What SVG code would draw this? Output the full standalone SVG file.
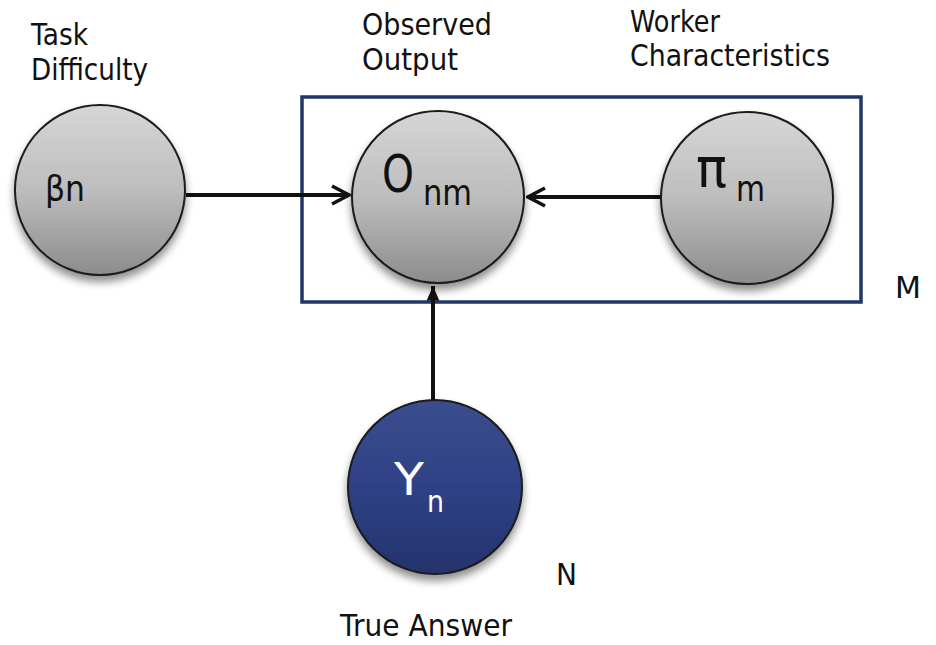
<svg xmlns="http://www.w3.org/2000/svg" width="936" height="645" viewBox="0 0 936 645">
  <defs>
    <linearGradient id="grayFill" x1="0" y1="0" x2="0" y2="1">
      <stop offset="0" stop-color="#d6d6d6"/>
      <stop offset="0.5" stop-color="#bdbdbd"/>
      <stop offset="1" stop-color="#8c8c8c"/>
    </linearGradient>
    <linearGradient id="navyFill" x1="0" y1="0" x2="0" y2="1">
      <stop offset="0" stop-color="#3b4d8e"/>
      <stop offset="0.5" stop-color="#2f4185"/>
      <stop offset="1" stop-color="#24336c"/>
    </linearGradient>
    <filter id="shadow" x="-30%" y="-30%" width="160%" height="170%">
      <feGaussianBlur in="SourceAlpha" stdDeviation="4"/>
      <feOffset dx="0" dy="6" result="blur"/>
      <feComponentTransfer><feFuncA type="linear" slope="0.45"/></feComponentTransfer>
      <feMerge><feMergeNode/><feMergeNode in="SourceGraphic"/></feMerge>
    </filter>
    <marker id="openArrow" viewBox="0 0 22 22" refX="20" refY="11" markerWidth="22" markerHeight="22" markerUnits="userSpaceOnUse" orient="auto">
      <path d="M3,2 L20,11 L3,20" fill="none" stroke="#111" stroke-width="3.5"/>
    </marker>
    <marker id="solidArrow" viewBox="0 0 20 20" refX="18" refY="10" markerWidth="18" markerHeight="18" markerUnits="userSpaceOnUse" orient="auto">
      <path d="M2,3 L18,10 L2,17 Z" fill="#111"/>
    </marker>
  </defs>
  <style>
    .lbl { font-family: "DejaVu Sans", "Liberation Sans", sans-serif; font-size: 31px; fill: #111; }
    .node { stroke: #1a1a1a; stroke-width: 2; }
    .gray { fill: url(#grayFill); }
    .navy { fill: url(#navyFill); }
    .sym { font-family: "DejaVu Sans", "Liberation Sans", sans-serif; fill: #111; }
    .wsym { font-family: "DejaVu Sans", "Liberation Sans", sans-serif; fill: #fff; }
    .edge { stroke: #111; stroke-width: 4; fill: none; }
  </style>

  <rect width="936" height="645" fill="#fff"/>

  <!-- plate M -->
  <rect id="plateM" x="302" y="97" width="559" height="205" fill="none" stroke="#1f3867" stroke-width="3.5"/>

  <!-- connectors -->
  <g id="edges">
    <line class="edge" x1="186" y1="195" x2="349" y2="195" marker-end="url(#openArrow)"/>
    <line class="edge" x1="662" y1="197" x2="528" y2="197" marker-end="url(#openArrow)"/>
    <line class="edge" x1="433" y1="400" x2="433" y2="286" marker-end="url(#solidArrow)"/>
  </g>

  <g id="beta">
    <circle class="node gray" cx="100" cy="190" r="85" filter="url(#shadow)"/>
    <text class="sym" x="45" y="201" font-size="35" textLength="40" lengthAdjust="spacingAndGlyphs">βn</text>
  </g>

  <g id="onm">
    <circle class="node gray" cx="438" cy="197" r="86" filter="url(#shadow)"/>
    <text class="sym" x="382" y="192" font-size="52" textLength="32" lengthAdjust="spacingAndGlyphs">O</text>
    <text class="sym" x="423" y="205" font-size="36" textLength="49" lengthAdjust="spacingAndGlyphs">nm</text>
  </g>

  <g id="pim">
    <circle class="node gray" cx="747" cy="198" r="86" filter="url(#shadow)"/>
    <text class="sym" x="696" y="187" font-size="56" textLength="31" lengthAdjust="spacingAndGlyphs">π</text>
    <text class="sym" x="736" y="201" font-size="36" textLength="29" lengthAdjust="spacingAndGlyphs">m</text>
  </g>

  <g id="yn">
    <circle class="node navy" cx="435" cy="487" r="87" stroke="#1c2a55" filter="url(#shadow)"/>
    <text class="wsym" x="394" y="495" font-size="45" textLength="30" lengthAdjust="spacingAndGlyphs">Y</text>
    <text class="wsym" x="427" y="512" font-size="31" textLength="17" lengthAdjust="spacingAndGlyphs">n</text>
  </g>

  <!-- captions -->
  <g id="captions">
    <text class="lbl" x="31" y="45" textLength="57" lengthAdjust="spacingAndGlyphs">Task</text>
    <text class="lbl" x="31" y="80" textLength="117" lengthAdjust="spacingAndGlyphs">Difficulty</text>
    <text class="lbl" x="362" y="35" textLength="130" lengthAdjust="spacingAndGlyphs">Observed</text>
    <text class="lbl" x="362" y="70" textLength="96" lengthAdjust="spacingAndGlyphs">Output</text>
    <text class="lbl" x="630" y="32" textLength="90" lengthAdjust="spacingAndGlyphs">Worker</text>
    <text class="lbl" x="630" y="66" textLength="200" lengthAdjust="spacingAndGlyphs">Characteristics</text>
    <text class="lbl" x="895" y="298" textLength="26" lengthAdjust="spacingAndGlyphs">M</text>
    <text class="lbl" x="556" y="585" textLength="21" lengthAdjust="spacingAndGlyphs">N</text>
    <text class="lbl" x="340" y="636" textLength="172" lengthAdjust="spacingAndGlyphs">True Answer</text>
  </g>
</svg>
